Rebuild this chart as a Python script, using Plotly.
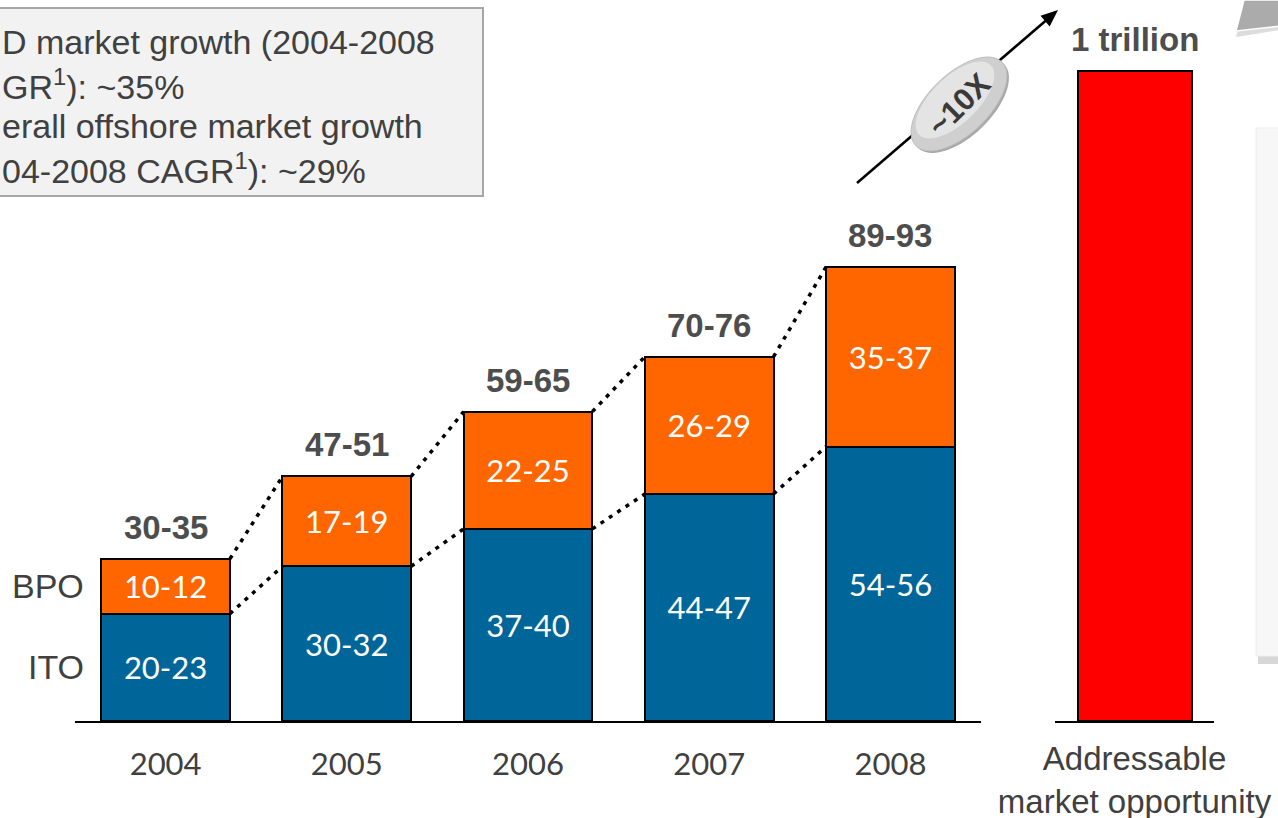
import numpy as np
import plotly.graph_objects as go

# ---------------- data ----------------
years = ["2004", "2005", "2006", "2007", "2008"]
ito_values = [21.5, 31, 38.5, 45.5, 55]       # midpoints of ranges (US$ bn)
bpo_values = [11, 18, 23.5, 27.5, 36]
ito_labels = ["20-23", "30-32", "37-40", "44-47", "54-56"]
bpo_labels = ["10-12", "17-19", "22-25", "26-29", "35-37"]
total_labels = ["30-35", "47-51", "59-65", "70-76", "89-93"]
series_names = ["ITO", "BPO"]

opp_category = ["Addressable<br>market opportunity"]
opp_values = [1000]
opp_labels = ["1 trillion"]
multiple_label = "~10X"

box_lines = ["D market growth (2004-2008", "GR<sup>1</sup>): ~35%",
             "erall offshore market growth", "04-2008 CAGR<sup>1</sup>): ~29%"]

# ---------------- style ----------------
W, H = 1278, 818
BLUE = "#006699"
ORANGE = "#FF6600"
RED = "#FF0000"
GREY_TXT = "#404040"
BAR_W = 0.71
GEO = "Lato, 'Open Sans', sans-serif"
ARIAL = "Arial, 'Liberation Sans', sans-serif"


def px(x):
    return x / W


def py(y):
    return 1 - y / H


totals = [a + b for a, b in zip(ito_values, bpo_values)]
xi = list(range(len(years)))

fig = go.Figure()
fig.add_trace(go.Bar(x=xi, y=ito_values, width=BAR_W, name=series_names[0],
                     marker=dict(color=BLUE, line=dict(color="black", width=2)),
                     text=ito_labels, textposition="inside", insidetextanchor="middle",
                     textangle=0, textfont=dict(family=GEO, size=31, color="white"),
                     hoverinfo="skip", xaxis="x", yaxis="y"))
fig.add_trace(go.Bar(x=xi, y=bpo_values, width=BAR_W, name=series_names[1],
                     marker=dict(color=ORANGE, line=dict(color="black", width=2)),
                     text=bpo_labels, textposition="inside", insidetextanchor="middle",
                     textangle=0, textfont=dict(family=GEO, size=31, color="white"),
                     hoverinfo="skip", xaxis="x", yaxis="y"))

# dotted connectors between bar tops
for level in (ito_values, totals):
    for i in range(len(years) - 1):
        fig.add_trace(go.Scatter(x=[i + BAR_W / 2, i + 1 - BAR_W / 2],
                                 y=[level[i], level[i + 1]], mode="lines",
                                 line=dict(color="black", width=3.5, dash="4px,6px"),
                                 hoverinfo="skip", showlegend=False,
                                 xaxis="x", yaxis="y"))

fig.add_trace(go.Bar(x=[0], y=opp_values, width=0.717,
                     marker=dict(color=RED, line=dict(color="black", width=2)),
                     hoverinfo="skip", xaxis="x2", yaxis="y2"))

ann = []
for i, t in enumerate(total_labels):
    ann.append(dict(x=i, y=totals[i], xref="x", yref="y", text=f"<b>{t}</b>",
                    showarrow=False, xanchor="center", yanchor="bottom", yshift=11,
                    font=dict(family=ARIAL, size=33, color="#4d4d4d")))
ann.append(dict(x=0, y=opp_values[0], xref="x2", yref="y2", text=f"<b>{opp_labels[0]}</b>",
                showarrow=False, xanchor="center", yanchor="bottom", yshift=11,
                font=dict(family=ARIAL, size=33, color="#4d4d4d")))
# series labels on the left
ann.append(dict(x=px(86), y=ito_values[0] + bpo_values[0] / 2, xref="paper", yref="y",
                text=series_names[1], showarrow=False, xanchor="right", yanchor="middle",
                font=dict(family=ARIAL, size=34, color=GREY_TXT)))
ann.append(dict(x=px(86), y=ito_values[0] / 2, xref="paper", yref="y",
                text=series_names[0], showarrow=False, xanchor="right", yanchor="middle",
                font=dict(family=ARIAL, size=34, color=GREY_TXT)))
# text box lines
for k, line in enumerate(box_lines):
    ann.append(dict(x=0, y=py(42 + 42 * k), xref="paper", yref="paper",
                    text=line, align="left", showarrow=False,
                    xanchor="left", yanchor="middle",
                    font=dict(family=ARIAL, size=34, color=GREY_TXT)))
# ~10X label
ann.append(dict(x=px(959), y=py(104), xref="paper", yref="paper",
                text=f"<b>{multiple_label}</b>", textangle=-45, showarrow=False,
                xanchor="center", yanchor="middle",
                font=dict(family=ARIAL, size=31, color="#3a3a3a")))

shapes = []
# text box
shapes.append(dict(type="rect", xref="paper", yref="paper",
                   x0=px(-5), x1=px(483), y0=py(196), y1=py(8),
                   fillcolor="#f2f2f2", line=dict(color="#a6a6a6", width=2), layer="below"))
# right panel (cropped)
shapes.append(dict(type="rect", xref="paper", yref="paper",
                   x0=px(1258), x1=px(1290), y0=py(664), y1=py(132),
                   fillcolor="#bdbdbd", line=dict(width=0), opacity=0.6, layer="below"))
shapes.append(dict(type="rect", xref="paper", yref="paper",
                   x0=px(1256), x1=px(1290), y0=py(656), y1=py(128),
                   fillcolor="#f7f7f7", line=dict(color="#ededed", width=1), layer="below"))
# top-right grey polygon (cropped)
shapes.append(dict(type="path", xref="paper", yref="paper",
                   path=f"M {px(1246)},{py(0)} L {px(1280)},{py(0)} L {px(1280)},{py(30)} "
                        f"L {px(1236)},{py(37)} Z",
                   fillcolor="#dcdcdc", line=dict(width=0), layer="below"))
shapes.append(dict(type="path", xref="paper", yref="paper",
                   path=f"M {px(1244)},{py(0)} L {px(1280)},{py(0)} L {px(1280)},{py(26)} "
                        f"L {px(1236)},{py(31)} Z",
                   fillcolor="#ababab", line=dict(color="white", width=1.5), layer="above"))
# arrow line
x_a, y_a, x_b, y_b = 857, 183, 1058, 10
shapes.append(dict(type="line", xref="paper", yref="paper",
                   x0=px(x_a), y0=py(y_a), x1=px(x_b - 8), y1=py(y_b + 7),
                   line=dict(color="black", width=2.5), layer="above"))
d = np.array([x_b - x_a, y_b - y_a], float)
d /= np.linalg.norm(d)
n = np.array([-d[1], d[0]])
tip = np.array([x_b, y_b], float)
base = tip - 17 * d
p1, p2 = base + 7 * n, base - 7 * n
shapes.append(dict(type="path", xref="paper", yref="paper",
                   path=f"M {px(tip[0])},{py(tip[1])} L {px(p1[0])},{py(p1[1])} "
                        f"L {px(p2[0])},{py(p2[1])} Z",
                   fillcolor="black", line=dict(width=0), layer="above"))


# ellipse badge
def ellipse_path(cx, cy, a, b, ang_deg):
    t = np.linspace(0, 2 * np.pi, 73)
    ang = np.deg2rad(ang_deg)
    xs = cx + a * np.cos(t) * np.cos(ang) - b * np.sin(t) * np.sin(ang)
    ys = cy - (a * np.cos(t) * np.sin(ang) + b * np.sin(t) * np.cos(ang))
    pts = " L ".join(f"{px(x)},{py(y)}" for x, y in zip(xs, ys))
    return "M " + pts + " Z"


shapes.append(dict(type="path", xref="paper", yref="paper",
                   path=ellipse_path(961, 106, 60, 30, 44),
                   fillcolor="#a9a9a9", line=dict(width=0), layer="above"))
shapes.append(dict(type="path", xref="paper", yref="paper",
                   path=ellipse_path(959, 104, 60, 30, 44),
                   fillcolor="#cfcfcf", line=dict(color="#bdbdbd", width=1), layer="above"))
shapes.append(dict(type="path", xref="paper", yref="paper",
                   path=ellipse_path(955, 100, 50, 23, 44),
                   fillcolor="#e4e4e4", line=dict(width=0), layer="above"))

fig.update_layout(
    width=W, height=H, autosize=False,
    margin=dict(l=0, r=0, t=0, b=0, autoexpand=False),
    paper_bgcolor="white", plot_bgcolor="white",
    barmode="stack", showlegend=False,
    xaxis=dict(domain=[px(75), px(981)], range=[-0.5, 4.5], tickvals=xi, ticktext=years,
               showline=True, linecolor="black", linewidth=2, ticks="", automargin=False,
               showgrid=False, zeroline=False, ticklabelstandoff=15,
               tickfont=dict(family=GEO, size=31, color=GREY_TXT), fixedrange=True),
    yaxis=dict(domain=[py(721), 1], range=[0, 721 / 4.99], visible=False, fixedrange=True,
               automargin=False),
    xaxis2=dict(domain=[px(1055), px(1214)], range=[-0.5, 0.5], tickvals=[0],
                ticktext=opp_category, anchor="y2", automargin=False,
                showline=True, linecolor="black", linewidth=2, ticks="",
                showgrid=False, zeroline=False, ticklabelstandoff=7,
                tickfont=dict(family=ARIAL, size=33, color=GREY_TXT), fixedrange=True),
    yaxis2=dict(domain=[py(721), 1], range=[0, opp_values[0] * 721 / 650], visible=False,
                anchor="x2", fixedrange=True, automargin=False),
    annotations=ann, shapes=shapes,
)

fig.write_html("out.html", config={"displayModeBar": False},
               post_script="document.body.style.margin='0px';"
                           "document.body.style.overflow='hidden';")
